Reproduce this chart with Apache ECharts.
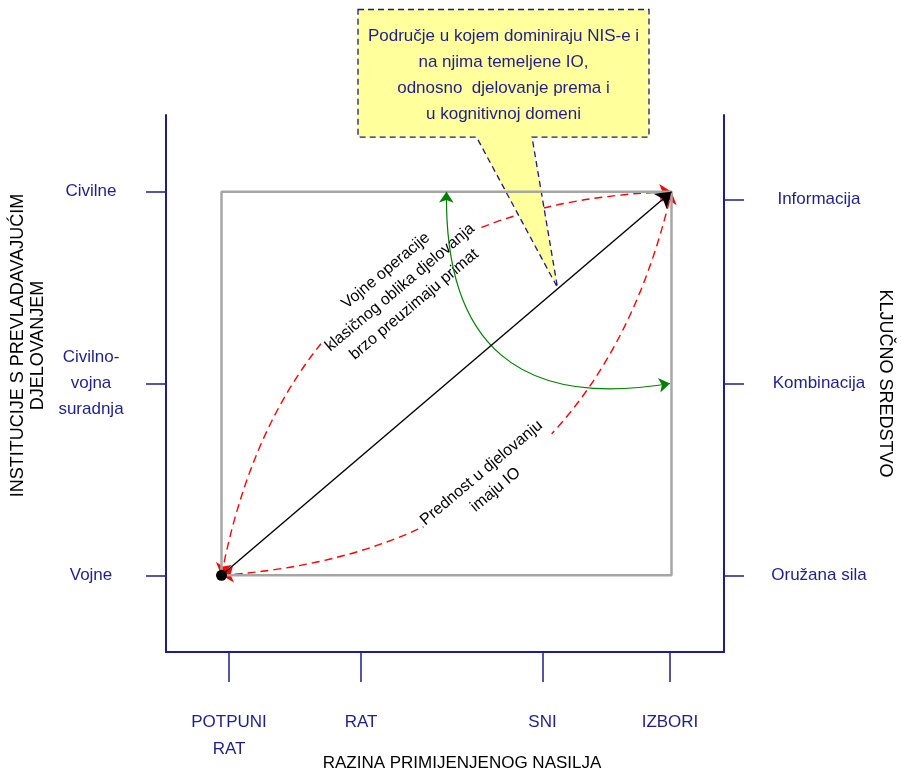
<!DOCTYPE html>
<html>
<head>
<meta charset="utf-8">
<script src="https://cdn.jsdelivr.net/npm/echarts@6/dist/echarts.min.js"></script>
<style>
html,body{margin:0;padding:0;background:#fff;}
#chart{width:901px;height:774px;}
</style>
</head>
<body>
<div id="chart"></div>
<script>
// ---- axis categories and their positions ----
const xTickLabels = ['POTPUNI\nRAT', 'RAT', 'SNI', 'IZBORI'];
const xTickValues = [0.05, 0.93, 2.14, 2.99];
const leftTickLabels = ['Vojne', 'Civilno-\nvojna\nsuradnja', 'Civilne'];
const leftTickValues = [0, 1, 2];
const rightTickLabels = ['Oružana sila', 'Kombinacija', 'Informacija'];
const rightTickValues = [0, 1, 1.96];

// ---- diagram elements in data units ----
const frameCorners = [[0, 0], [3, 0], [3, 2], [0, 2], [0, 0]];
const mainArrow = [[0, 0], [3, 2]];
const upperCurve = [[0, 0], [3, 2]];
const lowerCurve = [[0, 0], [3, 2]];
const greenCurve = [[1.5, 2], [2.99, 1.0]];
const startPoint = [[0, 0]];
const calloutBoxX = [0.91, 2.85];
const calloutBoxY = [2.285, 2.95];
const calloutTailBaseX = [1.70, 2.07];
const calloutTailTip = [2.24, 1.50];
const calloutText = 'Područje u kojem dominiraju NIS-e i\nna njima temeljene IO,\nodnosno  djelovanje prema i\nu kognitivnoj domeni';
const calloutTextPos = [1.88, 2.605];
const noteUpper = { text: 'Vojne operacije\nklasičnog oblika djelovanja\nbrzo preuzimaju primat', pos: [1.19, 1.50] };
const noteLower = { text: 'Prednost u djelovanju\nimaju IO', pos: [1.78, 0.49] };

const NAVY = '#1f1f8c';
const narrow = "'Liberation Sans',Arial,sans-serif";
const wide = "'Liberation Sans',Arial,sans-serif";

function pick(labels, values) {
  return function (v) {
    const i = values.findIndex(t => Math.abs(t - v) < 1e-6);
    return i >= 0 ? labels[i] : '';
  };
}

const chart = echarts.init(document.getElementById('chart'), null, { renderer: 'canvas' });

const option = {
  animation: false,
  backgroundColor: '#ffffff',
  grid: { left: 166, right: 177, top: 115, bottom: 122, outerBoundsMode: 'none' },
  xAxis: {
    type: 'value', min: -0.37, max: 3.35,
    name: 'RAZINA PRIMIJENJENOG NASILJA', nameLocation: 'middle', nameGap: 111, nameMoveOverlap: false,
    nameTextStyle: { color: '#000', fontFamily: narrow, fontSize: 17, align: 'center', verticalAlign: 'middle', padding: [0, 0, 0, 34] },
    axisLine: { show: true, onZero: false, lineStyle: { color: NAVY, width: 2 } },
    axisTick: { show: true, customValues: xTickValues, length: 30, lineStyle: { color: NAVY, width: 1.5 } },
    axisLabel: { customValues: xTickValues, formatter: pick(xTickLabels, xTickValues), margin: 57, color: NAVY, fontFamily: narrow, fontSize: 17, lineHeight: 27, verticalAlign: 'top' },
    splitLine: { show: false }
  },
  yAxis: [{
    type: 'value', min: -0.4, max: 2.4, position: 'left',
    name: 'INSTITUCIJE S PREVLADAVAJUĆIM\nDJELOVANJEM', nameLocation: 'middle', nameGap: 138, nameRotate: 90, nameMoveOverlap: false,
    nameTextStyle: { color: '#000', fontFamily: wide, fontSize: 18, lineHeight: 20, align: 'center', verticalAlign: 'middle', padding: [0, 0, 0, 76] },
    axisLine: { show: true, onZero: false, lineStyle: { color: NAVY, width: 2 } },
    axisTick: { show: true, customValues: leftTickValues, length: 20, lineStyle: { color: NAVY, width: 1.5 } },
    axisLabel: { customValues: leftTickValues, formatter: pick(leftTickLabels, leftTickValues), margin: 75, align: 'center', color: NAVY, fontFamily: narrow, fontSize: 17, lineHeight: 26 },
    splitLine: { show: false }
  }, {
    type: 'value', min: -0.4, max: 2.4, position: 'right',
    name: 'KLJUČNO SREDSTVO', nameLocation: 'middle', nameGap: 161, nameRotate: -90, nameMoveOverlap: false,
    nameTextStyle: { color: '#000', fontFamily: wide, fontSize: 18, align: 'center', verticalAlign: 'middle' },
    axisLine: { show: true, onZero: false, lineStyle: { color: NAVY, width: 2 } },
    axisTick: { show: true, customValues: rightTickValues, length: 20, lineStyle: { color: NAVY, width: 1.5 } },
    axisLabel: { customValues: rightTickValues, formatter: pick(rightTickLabels, rightTickValues), margin: 95, align: 'center', color: NAVY, fontFamily: narrow, fontSize: 17 },
    splitLine: { show: false }
  }],
  series: [
    {
      type: 'lines', coordinateSystem: 'cartesian2d', z: 2, silent: true,
      symbol: ['arrow', 'arrow'], symbolSize: 12,
      lineStyle: { color: '#ff0000', width: 1.4, type: [8, 5], opacity: 1 },
      data: [
        { coords: upperCurve, lineStyle: { curveness: 0.4 } },
        { coords: lowerCurve, lineStyle: { curveness: -0.37 } }
      ]
    },
    {
      type: 'custom', coordinateSystem: 'cartesian2d', z: 3, silent: true, clip: false,
      data: [[calloutBoxX[0], calloutBoxY[1]]],
      renderItem: function (params, api) {
        const L = calloutBoxX[0], R = calloutBoxX[1], B = calloutBoxY[0], T = calloutBoxY[1];
        const pts = [[L, T], [R, T], [R, B], [calloutTailBaseX[1], B], calloutTailTip, [calloutTailBaseX[0], B], [L, B]]
          .map(p => api.coord(p));
        return {
          type: 'polygon', shape: { points: pts },
          style: { fill: '#ffff9c', stroke: '#1a1a80', lineWidth: 1.3, lineDash: [6, 4] }
        };
      }
    },
    {
      type: 'scatter', z: 4, silent: true, symbolSize: 1, clip: false,
      itemStyle: { opacity: 0 },
      data: [calloutTextPos],
      label: { show: true, position: 'inside', formatter: calloutText, color: NAVY, opacity: 1, fontFamily: narrow, fontSize: 17, lineHeight: 26, align: 'center', verticalAlign: 'middle' }
    },
    {
      type: 'scatter', z: 4, silent: true, symbolSize: 1, clip: false,
      itemStyle: { opacity: 0 },
      data: [
        { value: noteUpper.pos, label: { formatter: noteUpper.text } },
        { value: noteLower.pos, label: { formatter: noteLower.text } }
      ],
      label: { show: true, position: 'inside', rotate: 40, color: '#000', opacity: 1, fontFamily: wide, fontSize: 16, lineHeight: 22, align: 'center', verticalAlign: 'middle', backgroundColor: '#ffffff', padding: [0, 2] }
    },
    {
      type: 'line', z: 5, silent: true, symbol: 'none',
      lineStyle: { color: '#a6a6a6', width: 2.5 },
      data: frameCorners
    },
    {
      type: 'lines', coordinateSystem: 'cartesian2d', z: 6, silent: true,
      symbol: ['arrow', 'arrow'], symbolSize: 11,
      lineStyle: { color: '#008000', width: 1.2, opacity: 1 },
      data: [{ coords: greenCurve, lineStyle: { curveness: -0.6 } }]
    },
    {
      type: 'lines', coordinateSystem: 'cartesian2d', z: 6, silent: true,
      symbol: ['none', 'arrow'], symbolSize: 15,
      lineStyle: { color: '#000000', width: 1.4, opacity: 1 },
      data: [{ coords: mainArrow }]
    },
    {
      type: 'scatter', z: 7, silent: true, symbol: 'circle', symbolSize: 11,
      itemStyle: { color: '#000', opacity: 1 },
      data: startPoint
    }
  ]
};
chart.setOption(option);
</script>
</body>
</html>
